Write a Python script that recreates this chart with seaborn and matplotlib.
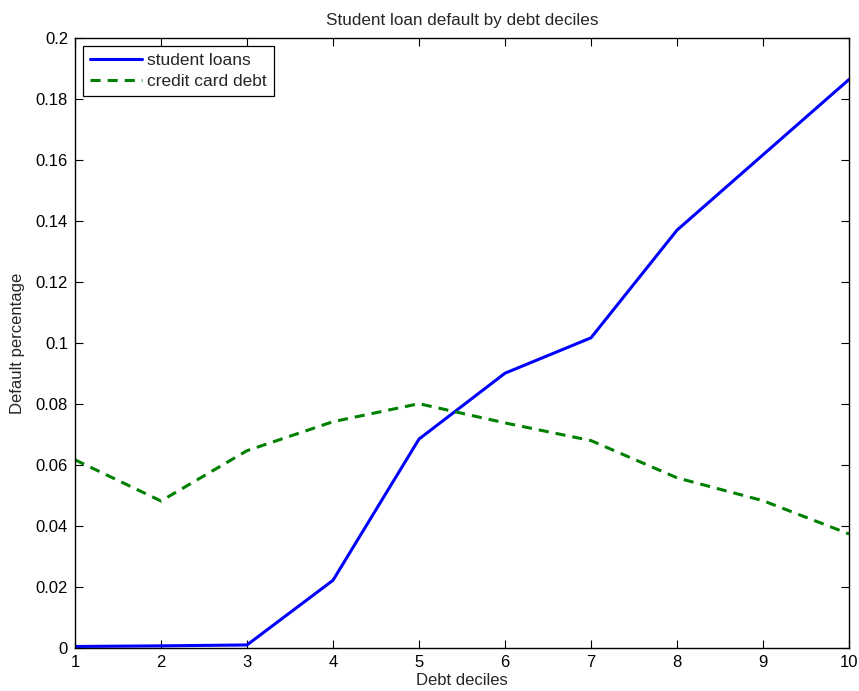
import matplotlib
matplotlib.use("Agg")
import matplotlib.pyplot as plt
import seaborn as sns
import pandas as pd

deciles = [1, 2, 3, 4, 5, 6, 7, 8, 9, 10]
student_loans = [0.0005, 0.0007, 0.001, 0.0222, 0.0685, 0.0901, 0.1017, 0.1370, 0.1617, 0.1864]
credit_card = [0.0617, 0.0482, 0.0647, 0.0742, 0.0801, 0.0738, 0.0680, 0.0558, 0.0483, 0.0374]
y_ticks = [0, 0.02, 0.04, 0.06, 0.08, 0.1, 0.12, 0.14, 0.16, 0.18, 0.2]
y_tick_labels = ["0", "0.02", "0.04", "0.06", "0.08", "0.1", "0.12", "0.14", "0.16", "0.18", "0.2"]

sns.set_style("white")
plt.rcParams["font.family"] = ["Liberation Sans", "DejaVu Sans"]

fig = plt.figure(figsize=(8.59, 6.91), dpi=100)
ax = fig.add_axes([75 / 859, 43 / 691, 774 / 859, 610 / 691])

df_s = pd.DataFrame({"decile": deciles, "value": student_loans})
df_c = pd.DataFrame({"decile": deciles, "value": credit_card})

sns.lineplot(data=df_s, x="decile", y="value", ax=ax, color="#0000ff",
             linewidth=2.2, label="student loans")
sns.lineplot(data=df_c, x="decile", y="value", ax=ax, color="#008000",
             linewidth=2.2, label="credit card debt")
ax.lines[1].set_dashes([3.3, 2.3])

ax.set_xlim(1, 10)
ax.set_ylim(0, 0.2)
ax.set_xticks(deciles)
ax.set_xticklabels([str(d) for d in deciles], fontsize=12)
ax.set_yticks(y_ticks)
ax.set_yticklabels(y_tick_labels, fontsize=12)

ax.tick_params(direction="in", length=6, width=0.8, top=True, right=True,
               bottom=True, left=True, pad=5, colors="black")
for s in ax.spines.values():
    s.set_visible(True)
    s.set_color("black")
    s.set_linewidth(1.0)

ax.set_title("Student loan default by debt deciles", fontsize=12.3, pad=9)
ax.set_xlabel("Debt deciles", fontsize=12, labelpad=2)
ax.set_ylabel("Default percentage", fontsize=12, labelpad=8)

leg = ax.legend(loc="upper left", fontsize=12.5, frameon=True, fancybox=False,
                edgecolor="black", framealpha=1, borderaxespad=0.45,
                handlelength=3.0, handletextpad=0.3, borderpad=0.42,
                labelspacing=0.33)
leg.get_frame().set_linewidth(0.9)

fig.savefig("out.png", dpi=100)
